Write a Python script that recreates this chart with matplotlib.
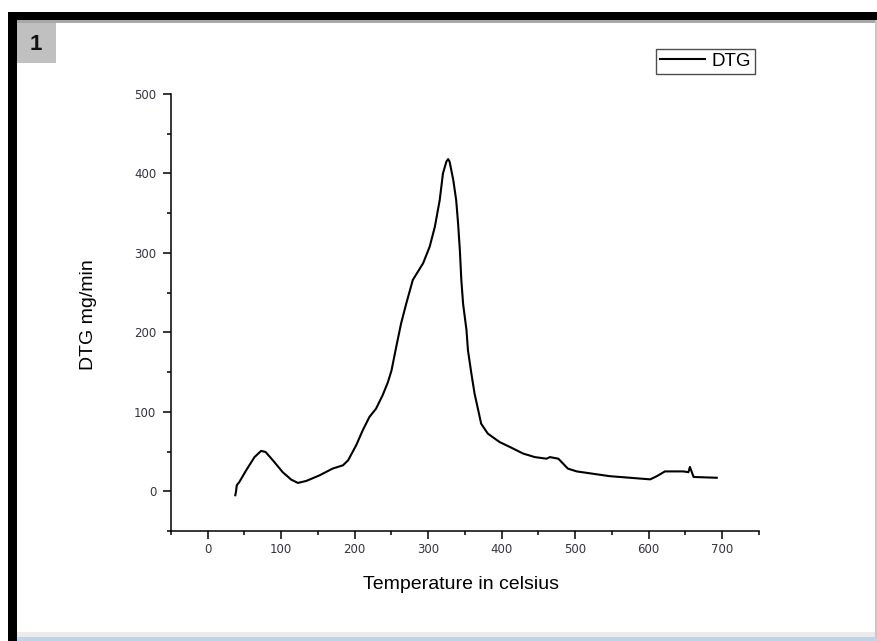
import matplotlib
matplotlib.use("Agg")
import matplotlib.pyplot as plt
from matplotlib.patches import Rectangle
from matplotlib.ticker import MultipleLocator

W, H = 878, 641

# DTG curve
temperature = [37.5, 38.5, 39.5, 43, 52, 63.6, 72.6, 78.6, 88.6, 102, 113.5,
               122.6, 134, 152, 170, 184, 191, 202, 211, 220, 229, 238, 245,
               250, 256.5, 263, 270, 279, 293, 302, 309, 315.6, 320, 324.7,
               327, 329, 334, 338, 340.6, 343, 345, 347.4, 352, 354, 358.7,
               363, 368, 372, 381, 397, 411, 429, 445, 461, 465.5, 477, 490,
               502, 524.5, 547, 574.5, 588, 602, 611, 622, 647, 654, 656,
               661, 692.5]
dtg = [-5, 0, 7.6, 11.7, 26, 43, 50.8, 49.5, 39, 24, 14.7,
       10.5, 13, 20, 28.6, 32.7, 39, 58, 77, 93.6, 104, 121, 137,
       152, 182, 211, 236, 266, 287, 308, 333, 366.5, 400, 415,
       418, 415, 392, 366.5, 337, 303.5, 266, 236, 203, 177.6, 148,
       123, 102, 85, 72.6, 62, 55.8, 47.5, 43, 41, 43, 41, 28.5,
       25, 22, 19, 17, 16, 15, 19, 25, 25, 24, 30.6,
       18, 17]

x_ticks = [0, 100, 200, 300, 400, 500, 600, 700]
y_ticks = [0, 100, 200, 300, 400, 500]

plt.rcParams['font.family'] = ['Liberation Sans', 'DejaVu Sans']


def px_rect(fig, x, y, w, h, color, z=0):
    # rectangle given in screen pixels, origin top-left
    fig.add_artist(Rectangle((x / W, 1 - (y + h) / H), w / W, h / H,
                             transform=fig.transFigure, facecolor=color,
                             edgecolor='none', zorder=z))


fig = plt.figure(figsize=(W / 100, H / 100), dpi=100)
fig.patch.set_facecolor('white')

# window frame of the screenshot
px_rect(fig, 8, 12, W - 8, 8, 'black')
px_rect(fig, 17, 20, W - 17, 3, '#a8a8a8')
px_rect(fig, 8, 12, 9, H - 12, 'black')
px_rect(fig, 875, 20, 3, H - 20, '#c8c8c8')
px_rect(fig, 17, 632, W - 20, 5, '#ebebeb')
px_rect(fig, 17, 637, W - 17, 4, '#bcd4ee')
px_rect(fig, 17, 23, 39, 40, '#c0c0c0')
fig.text(36 / W, 1 - 44 / H, "1", fontsize=16, fontweight='bold',
         ha='center', va='center', color='#111111')

ax = fig.add_axes([171 / W, 1 - 531 / H, 588 / W, 437 / H])
ax.plot(temperature, dtg, color='black', linewidth=1.5, label='DTG')

ax.set_xlim(-50, 750)
ax.set_ylim(-50, 500)
ax.set_xticks(x_ticks)
ax.set_yticks(y_ticks)
ax.xaxis.set_minor_locator(MultipleLocator(50))
ax.yaxis.set_minor_locator(MultipleLocator(50))
ax.spines['top'].set_visible(False)
ax.spines['right'].set_visible(False)
for side in ['left', 'bottom']:
    ax.spines[side].set_linewidth(1.1)
ax.tick_params(which='major', direction='out', length=5.5, width=1.1,
               labelsize=8.5, labelcolor='#333344', pad=5)
ax.tick_params(axis='x', which='major', pad=3)
ax.tick_params(which='minor', direction='out', length=3, width=1.1)
for lab in ax.get_xticklabels() + ax.get_yticklabels():
    lab.set_family('DejaVu Sans')

ax.set_xlabel("Temperature in celsius", fontsize=14)
ax.set_ylabel("DTG mg/min", fontsize=14)
ax.xaxis.set_label_coords(0.493, -0.103)
ax.yaxis.set_label_coords(-0.126, 0.494)

leg = ax.legend(loc='upper left', bbox_to_anchor=(656 / W, 1 - 49 / H),
                bbox_transform=fig.transFigure, fontsize=13.5,
                handlelength=2.4, handletextpad=0.35, borderpad=0.2,
                borderaxespad=0, fancybox=False, edgecolor='#222222')
leg.get_frame().set_linewidth(1.0)

fig.savefig("out.png", dpi=100)
